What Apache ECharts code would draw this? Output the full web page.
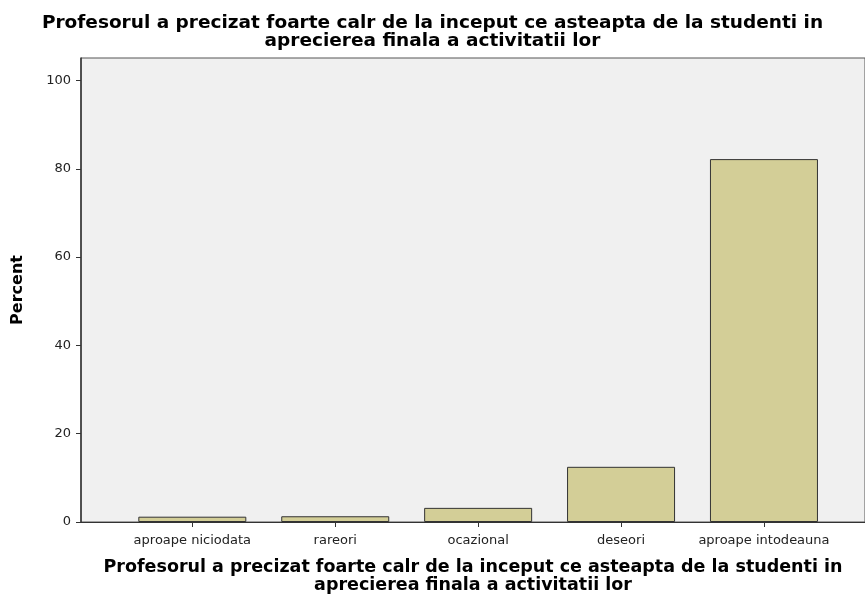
<!DOCTYPE html>
<html>
<head>
<meta charset="utf-8">
<script src="https://cdn.jsdelivr.net/npm/echarts@6/dist/echarts.min.js"></script>
<style>
  html, body { margin: 0; padding: 0; background: #fff; }
</style>
</head>
<body>
<div id="chart" style="width: 865px; height: 595px"></div>
<script>
// categories and percentages
var categories = ["aproape niciodata", "rareori", "ocazional", "deseori", "aproape intodeauna"];
var percents = [1.2, 1.3, 3.2, 12.5, 82.2];
var yTicks = [0, 20, 40, 60, 80, 100];
var titleText = "Profesorul a precizat foarte calr de la inceput ce asteapta de la studenti in\naprecierea finala a activitatii lor";

var FONT = "DejaVu Sans";
var chart = echarts.init(document.getElementById("chart"));

var option = {
  animation: false,
  backgroundColor: "#fff",
  title: {
    text: titleText,
    left: "center",
    top: 9,
    textStyle: {
      fontFamily: FONT,
      fontWeight: "bold",
      fontSize: 18.5,
      lineHeight: 18,
      color: "#000",
    },
  },
  grid: {
    left: 81,
    top: 58,
    right: 0,
    bottom: 73,
    outerBoundsMode: "none", // keep the plot box where it is
    show: true,
    backgroundColor: "#f0f0f0",
    borderColor: "#555",
    borderWidth: 1,
  },
  xAxis: {
    type: "value",
    min: -0.779,
    max: 4.707,
    splitLine: { show: false },
    axisLine: { show: true, lineStyle: { color: "#333", width: 1 } },
    axisTick: {
      show: true,
      length: 5,
      customValues: categories.map((c, i) => i),
      lineStyle: { color: "#333" },
    },
    axisLabel: {
      customValues: categories.map((c, i) => i),
      formatter: (v) => categories[Math.round(v)],
      margin: 12,
      fontFamily: FONT,
      fontSize: 13,
      color: "#222",
    },
    name: titleText,
    nameLocation: "middle",
    nameGap: 36,
    nameTextStyle: {
      fontFamily: FONT,
      fontWeight: "bold",
      fontSize: 17.5,
      lineHeight: 18,
      color: "#000",
    },
  },
  yAxis: {
    type: "value",
    min: 0,
    max: 105.1,
    splitLine: { show: false },
    axisLine: { show: true, onZero: false, lineStyle: { color: "#333", width: 1.5 } },
    axisTick: {
      show: true,
      length: 5,
      customValues: yTicks,
      lineStyle: { color: "#333" },
    },
    axisLabel: {
      customValues: yTicks,
      margin: 10,
      fontFamily: FONT,
      fontSize: 13,
      color: "#222",
    },
    name: "Percent",
    nameLocation: "middle",
    nameGap: 55,
    nameTextStyle: {
      fontFamily: FONT,
      fontWeight: "bold",
      fontSize: 16,
      color: "#000",
    },
  },
  series: [
    {
      type: "bar",
      barWidth: 108,
      data: percents.map((v, i) => [i, v]),
      itemStyle: {
        color: "#d3ce97",
        borderColor: "#333",
        borderWidth: 1,
      },
    },
  ],
};
chart.setOption(option);
</script>
</body>
</html>
